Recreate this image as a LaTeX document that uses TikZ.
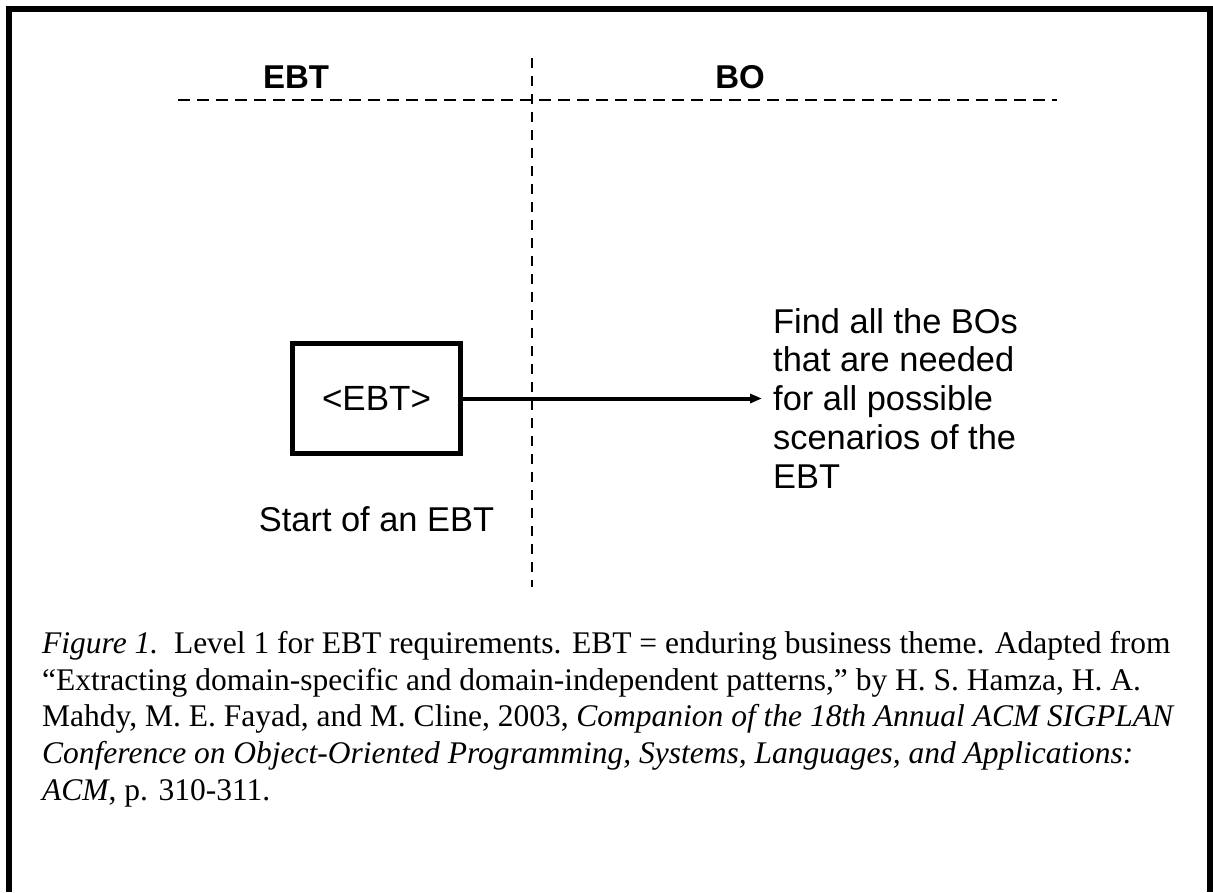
\documentclass[tikz,border=0pt]{standalone}
\usepackage{fontspec}
\setmainfont{Liberation Serif}
\setsansfont{Liberation Sans}
\usetikzlibrary{arrows.meta}

\tikzset{
  frameline/.style={line width=6pt, line join=miter},
  lanehead/.style={font=\sffamily\bfseries\fontsize{33}{38}\selectfont, inner sep=0pt},
  laneline/.style={line width=2pt, dash pattern=on 12pt off 7pt},
  ebtbox/.style={draw, line width=5pt, minimum width=168pt, minimum height=110pt,
                 inner sep=0pt, font=\sffamily\fontsize{35}{40}\selectfont},
  flowarrow/.style={line width=4pt, -{Triangle[length=12pt,width=9pt]}},
  label/.style={font=\sffamily\fontsize{34.4}{38.75}\selectfont, inner sep=0pt},
  caption/.style={font=\fontsize{31.5}{36.75}\selectfont, inner sep=0pt, align=left}
}

\begin{document}
\begin{tikzpicture}[x=1pt, y=-1pt]
  \useasboundingbox (0,0) rectangle (1213,892);

  % open frame: top, left and right sides
  \draw[frameline] (9,892) -- (9,9) -- (1210,9) -- (1210,892);

  % lane headers and separators
  \node[lanehead, anchor=base] (hEBT) at (296,88) {EBT};
  \node[lanehead, anchor=base] (hBO)  at (740,88) {BO};
  \coordinate (hl) at (178,100);
  \coordinate (hr) at (1057,100);
  \coordinate (vt) at (532,58);
  \coordinate (vb) at (532,587);
  \draw[laneline] (hl) -- (hr);
  \draw[line width=2pt, dash pattern=on 10pt off 8pt] (vt) -- (vb);

  % start of the theme
  \node[ebtbox] (ebt) at (376.5,398.5) {<EBT>};
  \node[label, anchor=base] (start) at (376.5,531) {Start of an EBT};

  % goal text and arrow
  \node[label, anchor=north west, align=left] (goal) at (773,308)
    {Find all the BOs\\that are needed\\for all possible\\scenarios of the\\EBT};
  \coordinate (tip) at (762,398.5);
  \draw[flowarrow] (ebt.east) -- (tip);

  % figure caption
  \node[caption, anchor=north west] (cap) at (42,631)
    {\textit{Figure 1.}\ \ Level 1 for EBT requirements. EBT = enduring business theme. Adapted from\\
     ``Extracting domain-specific and domain-independent patterns,'' by H. S. Hamza, H. A.\\
     Mahdy, M. E. Fayad, and M. Cline, 2003, \textit{Companion of the 18th Annual ACM SIGPLAN}\\
     \textit{Conference on Object-Oriented Programming, Systems, Languages, and Applications:}\\
     \textit{ACM}, p. 310-311.};
\end{tikzpicture}
\end{document}
